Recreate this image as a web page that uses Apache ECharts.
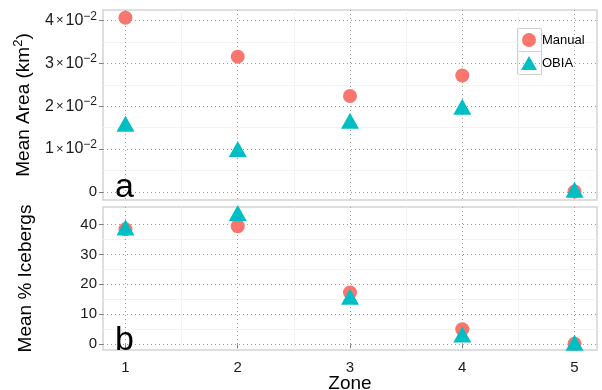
<!DOCTYPE html>
<html>
<head>
<meta charset="utf-8">
<script src="https://cdn.jsdelivr.net/npm/echarts@6/dist/echarts.min.js"></script>
<style>
  html, body { margin: 0; padding: 0; background: #fff; }
  #chart { width: 602px; height: 390px; }
</style>
</head>
<body>
<div id="chart"></div>
<script>
// data
const zones = [1, 2, 3, 4, 5]
const manualArea = [0.0407, 0.0316, 0.0224, 0.0272, 0.0001]
const obiaArea = [0.0159, 0.0100, 0.0166, 0.0199, 0.0005]
const manualPct = [38.4, 39.4, 17.3, 5.0, 0.2]
const obiaPct = [39.0, 43.8, 15.9, 3.3, 0.5]
const xTicks = [1, 2, 3, 4, 5]
const xMinor = [1.5, 2.5, 3.5, 4.5]
const areaTicks = [0, 0.01, 0.02, 0.03, 0.04]
const areaMinor = [0.005, 0.015, 0.025, 0.035]
const pctTicks = [0, 10, 20, 30, 40]
const pctMinor = [5, 15, 25, 35]

const MANUAL = '#F8766D'
const OBIA = '#00BFC4'
const FONT = 'Liberation Sans, Arial, sans-serif'

const chart = echarts.init(document.getElementById('chart'))

const toPairs = (xs, ys) => xs.map((x, i) => [x, ys[i]])

const majorLine = {show: true, lineStyle: {color: '#9a9a9a', type: [1, 3], width: 1}}
const minorLine = {show: true, lineStyle: {color: '#f3f3f3', width: 1}}

// one major and one minor axis per panel for x
const xAxisFor = (grid, ticks, split, labelled) => ({
  type: 'value', gridIndex: grid, min: 0.8, max: 5.2, position: 'bottom', offset: 0,
  axisLine: {show: false},
  axisTick: {show: labelled, customValues: ticks, length: 4, lineStyle: {color: '#7f7f7f'}},
  axisLabel: {show: labelled, customValues: ticks, color: '#1a1a1a', fontSize: 15, fontFamily: FONT, margin: 10},
  splitLine: split,
  name: labelled ? 'Zone' : '', nameLocation: 'middle', nameGap: 24, nameMoveOverlap: false,
  nameTextStyle: {fontSize: 19, fontFamily: FONT, color: '#000'}
})

const areaLabel = v => {
  if (v === 0) return '0'
  const n = Math.round(v * 100)
  return `{b|${n}}{s|×}{b|10}{e|−2}`
}

const gridBase = {left: 103, width: 494, show: true, borderColor: '#d4d4d4', borderWidth: 1.5,
  backgroundColor: '#fff', outerBoundsMode: 'none', containLabel: false}

chart.setOption({
  animation: false,
  grid: [
    Object.assign({top: 10, height: 190}, gridBase),
    Object.assign({top: 207, height: 143}, gridBase)
  ],
  xAxis: [
    xAxisFor(0, xMinor, minorLine, false),
    xAxisFor(1, xMinor, minorLine, false),
    xAxisFor(0, xTicks, majorLine, false),
    xAxisFor(1, xTicks, majorLine, true)
  ],
  yAxis: [
    {
      type: 'value', gridIndex: 0, min: -0.0019, max: 0.0425, position: 'left', offset: 0,
      axisLine: {show: false},
      axisTick: {customValues: areaMinor, show: false},
      axisLabel: {show: false, customValues: areaMinor},
      splitLine: minorLine
    },
    {
      type: 'value', gridIndex: 1, min: -1.9, max: 45.8, position: 'left', offset: 0,
      axisLine: {show: false},
      axisTick: {customValues: pctMinor, show: false},
      axisLabel: {show: false, customValues: pctMinor},
      splitLine: minorLine
    },
    {
      type: 'value', gridIndex: 0, min: -0.0019, max: 0.0425, position: 'left', offset: 0,
      axisLine: {show: false},
      axisTick: {show: true, customValues: areaTicks, length: 4, lineStyle: {color: '#7f7f7f'}},
      axisLabel: {
        customValues: areaTicks, margin: 6, formatter: areaLabel,
        color: '#1a1a1a', fontSize: 15, fontFamily: FONT,
        rich: {
          b: {fontSize: 16, fontFamily: FONT, color: '#1a1a1a'},
          s: {fontSize: 13, fontFamily: FONT, color: '#1a1a1a', padding: [0, 2, 0, 2]},
          e: {fontSize: 12, fontFamily: FONT, color: '#1a1a1a', padding: [0, 0, 9, 0]}
        }
      },
      splitLine: majorLine,
      name: 'Mean Area (km{e|2})', nameLocation: 'middle', nameGap: 68,
      nameTextStyle: {
        fontSize: 19, fontFamily: FONT, color: '#000',
        rich: {e: {fontSize: 13, fontFamily: FONT, color: '#000', padding: [0, 0, 10, 0]}}
      }
    },
    {
      type: 'value', gridIndex: 1, min: -1.9, max: 45.8, position: 'left', offset: 0,
      axisLine: {show: false},
      axisTick: {show: true, customValues: pctTicks, length: 4, lineStyle: {color: '#7f7f7f'}},
      axisLabel: {customValues: pctTicks, margin: 6, color: '#1a1a1a', fontSize: 15, fontFamily: FONT},
      splitLine: majorLine,
      name: 'Mean % Icebergs', nameLocation: 'middle', nameGap: 68,
      nameTextStyle: {fontSize: 19, fontFamily: FONT, color: '#000'}
    }
  ],
  legend: {
    orient: 'vertical', left: 521, top: 33, padding: 0, itemWidth: 16, itemHeight: 14, itemGap: 9,
    textStyle: {fontSize: 13, fontFamily: FONT, color: '#000'},
    data: ['Manual', 'OBIA']
  },
  graphic: [
    {type: 'rect', left: 517, top: 28, z: 0, shape: {width: 24, height: 23}, style: {fill: '#fff', stroke: '#d0d0d0', lineWidth: 1}},
    {type: 'rect', left: 517, top: 51, z: 0, shape: {width: 24, height: 23}, style: {fill: '#fff', stroke: '#d0d0d0', lineWidth: 1}},
    {type: 'text', left: 115, top: 171, z: 10, style: {text: 'a', fontSize: 34, fontFamily: FONT, fill: '#000'}},
    {type: 'text', left: 115, top: 324, z: 10, style: {text: 'b', fontSize: 34, fontFamily: FONT, fill: '#000'}}
  ],
  series: [
    {name: 'Manual', type: 'scatter', xAxisIndex: 2, yAxisIndex: 2, symbol: 'circle', symbolSize: 14,
      itemStyle: {color: MANUAL, opacity: 1}, data: toPairs(zones, manualArea)},
    {name: 'OBIA', type: 'scatter', xAxisIndex: 2, yAxisIndex: 2, symbol: 'triangle', symbolSize: [18, 16],
      itemStyle: {color: OBIA, opacity: 1}, data: toPairs(zones, obiaArea)},
    {name: 'Manual', type: 'scatter', xAxisIndex: 3, yAxisIndex: 3, symbol: 'circle', symbolSize: 14,
      itemStyle: {color: MANUAL, opacity: 1}, data: toPairs(zones, manualPct)},
    {name: 'OBIA', type: 'scatter', xAxisIndex: 3, yAxisIndex: 3, symbol: 'triangle', symbolSize: [18, 16],
      itemStyle: {color: OBIA, opacity: 1}, data: toPairs(zones, obiaPct)}
  ]
})
</script>
</body>
</html>
